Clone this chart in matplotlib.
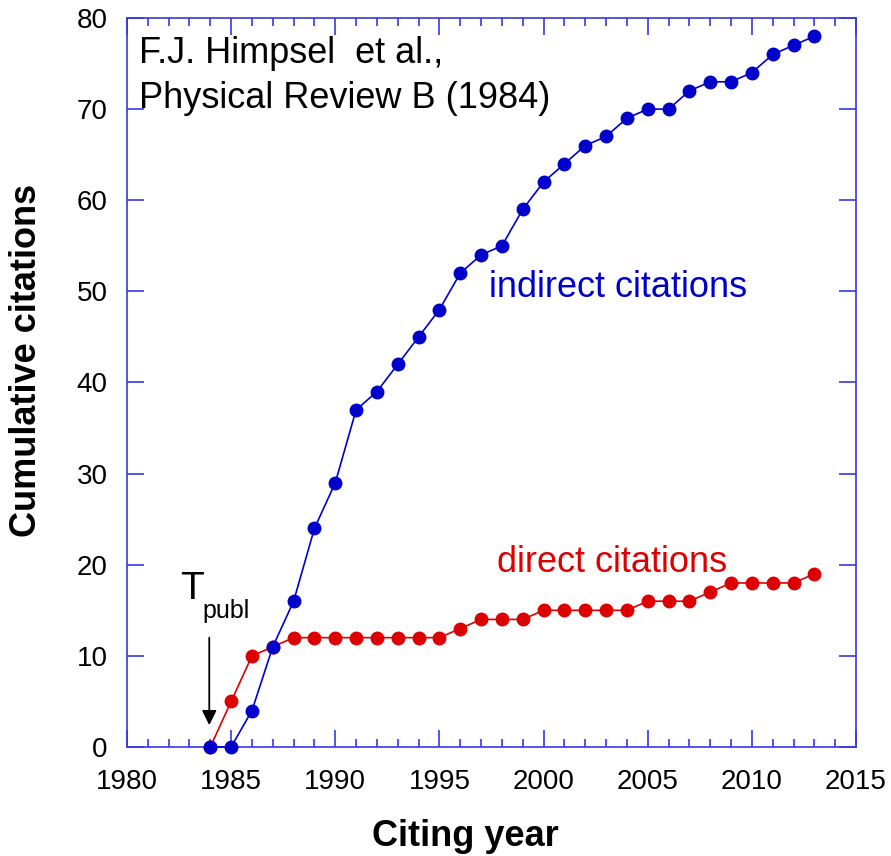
import matplotlib
matplotlib.use("Agg")
import matplotlib.pyplot as plt
from matplotlib.ticker import MultipleLocator

plt.rcParams['font.family'] = ['Liberation Sans', 'DejaVu Sans']

# data
years = list(range(1984, 2014))
indirect = [0, 0, 4, 11, 16, 24, 29, 37, 39, 42, 45, 48, 52, 54, 55, 59,
            62, 64, 66, 67, 69, 70, 70, 72, 73, 73, 74, 76, 77, 78]
direct = [0, 5, 10, 11, 12, 12, 12, 12, 12, 12, 12, 12, 13, 14, 14, 14,
          15, 15, 15, 15, 15, 16, 16, 16, 17, 18, 18, 18, 18, 19]

blue = '#0000CC'
red = '#DD0000'
frame = '#3838E0'

fig = plt.figure(figsize=(8.91, 8.56), dpi=100)
ax = fig.add_axes([127/891, 1 - 747/856, 729/891, 729/856])

ax.plot(years, direct, '-o', color=red, lw=1.2, ms=9, zorder=3, clip_on=False)
ax.plot(years, indirect, '-o', color=blue, lw=1.2, ms=9, zorder=4, clip_on=False)

ax.set_xlim(1980, 2015)
ax.set_ylim(0, 80)
ax.xaxis.set_major_locator(MultipleLocator(5))
ax.xaxis.set_minor_locator(MultipleLocator(1))
ax.yaxis.set_major_locator(MultipleLocator(10))

for s in ax.spines.values():
    s.set_color(frame)
    s.set_linewidth(1.2)
ax.tick_params(which='both', direction='in', top=True, right=True,
               color=frame, labelsize=20)
ax.tick_params(axis='x', pad=15.5)
ax.tick_params(axis='y', pad=14)
ax.tick_params(which='major', length=12, width=1.2)
ax.tick_params(which='minor', length=6, width=1.2)

fig.text(465/891, 1 - 836/856, 'Citing year', fontsize=26, fontweight='bold',
         ha='center', va='center')
fig.text(27/891, 1 - 360/856, 'Cumulative citations', fontsize=26,
         fontweight='bold', ha='center', va='center', rotation=90)

ax.text(1980.6, 75.1, 'F.J. Himpsel  et al.,', fontsize=26, va='baseline')
ax.text(1980.6, 70.1, 'Physical Review B (1984)', fontsize=26, va='baseline')
ax.text(1997.4, 49.4, 'indirect citations', fontsize=26, color=blue, va='baseline')
ax.text(1997.75, 19.2, 'direct citations', fontsize=26, color=red, va='baseline')

ax.text(1982.55, 16.2, 'T', fontsize=28, va='baseline')
ax.text(1983.6, 14.2, 'publ', fontsize=18, va='baseline')
ax.annotate('', xy=(1983.95, 2.4), xytext=(1983.95, 12.0),
            arrowprops=dict(arrowstyle='-|>', color='black', lw=1.3,
                            mutation_scale=22, shrinkA=0, shrinkB=0))

fig.savefig('out.png', dpi=100)
